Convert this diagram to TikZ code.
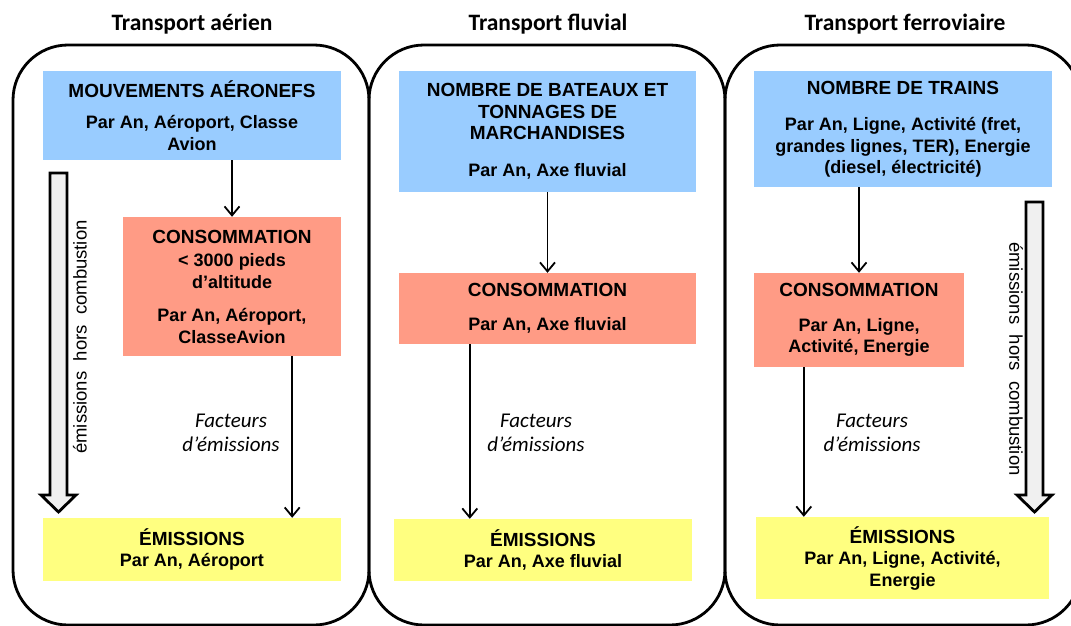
\documentclass[tikz,border=0pt]{standalone}
\usepackage{fontspec}
\setmainfont{Liberation Sans}
\newfontfamily\calib{Carlito}
\newfontfamily\sidefont[WordSpace=2]{Liberation Sans}
\usetikzlibrary{arrows.meta}
\definecolor{boxblue}{HTML}{99CCFF}
\definecolor{boxred}{HTML}{FF9B85}
\definecolor{boxyellow}{HTML}{FFFF80}
\definecolor{arrowgray}{HTML}{F0F0F0}
\newcommand\hd{\fontsize{19}{22}\selectfont}

\begin{document}
\begin{tikzpicture}[x=1pt,y=-1pt,
        bxframe/.style={draw=black,line width=2.8pt,rounded corners=55pt,minimum width=356pt,minimum height=580pt},
        bx/.style={inner sep=0pt,align=center,font=\bfseries\fontsize{18}{21.5}\selectfont},
        bxblue/.style={bx,fill=boxblue},
        bxred/.style={bx,fill=boxred},
        bxyellow/.style={bx,fill=boxyellow},
        flow/.style={-{Straight Barb[length=9pt,width=15pt]},line width=1.8pt},
        bigarrow/.style={fill=arrowgray,draw=black,line width=2.8pt},
        ttl/.style={font=\calib\bfseries\fontsize{23.5}{28}\selectfont},
        fct/.style={align=center,font=\calib\itshape\fontsize{21}{24}\selectfont},
        side/.style={font=\sidefont\fontsize{18.5}{22}\selectfont}
      ]
      \useasboundingbox (0,0) rectangle (1071,626);

      % frames and titles
      \node[bxframe] (fair)  at (191,335) {};
      \node[bxframe] (ffluv) at (547,335) {};
      \node[bxframe] (ffer)  at (903,335) {};
      \node[ttl] (tair)  at (192,24) {Transport aérien};
      \node[ttl] (tfluv) at (548,24) {Transport fluvial};
      \node[ttl] (tfer)  at (905,24) {Transport ferroviaire};

      % air
      \node[bxblue,minimum width=298pt,minimum height=89pt] (mvt) at (192,115.5)
        {{\hd MOUVEMENTS AÉRONEFS}\\[10pt]Par An, Aéroport, Classe\\Avion};
      \node[bxred,minimum width=218pt,minimum height=139pt] (consoair) at (232,286.5)
        {{\hd CONSOMMATION}\\[2pt]< 3000 pieds\\d’altitude\\[12pt]Par An, Aéroport,\\ClasseAvion};
      \node[bxyellow,minimum width=298pt,minimum height=63pt] (emair) at (192,549.5)
        {{\hd ÉMISSIONS}\\Par An, Aéroport};
      \node[fct] (fcair) at (231,433) {Facteurs\\d’émissions};
      \node[side,rotate=90] (hcair) at (80,337) {émissions hors combustion};
      \draw[bigarrow] (50,173) -- (67,173) -- (67,495) -- (76,495) -- (58.5,512) -- (41,495) -- (50,495) -- cycle;

      % fluvial
      \node[bxblue,minimum width=297pt,minimum height=121pt] (bateaux) at (547.5,131.5)
        {{\hd NOMBRE DE BATEAUX ET}\\{\hd TONNAGES DE}\\{\hd MARCHANDISES}\\[15pt]Par An, Axe fluvial};
      \node[bxred,minimum width=297pt,minimum height=71pt] (consofluv) at (547.5,308.5)
        {{\hd CONSOMMATION}\\[13pt]Par An, Axe fluvial};
      \node[bxyellow,minimum width=298pt,minimum height=62pt] (emfluv) at (543,550)
        {{\hd ÉMISSIONS}\\Par An, Axe fluvial};
      \node[fct] (fcfluv) at (536,433) {Facteurs\\d’émissions};

      % ferroviaire
      \node[bxblue,minimum width=298pt,minimum height=116pt] (trains) at (903,129)
        {{\hd NOMBRE DE TRAINS}\\[15pt]Par An, Ligne, Activité (fret,\\grandes lignes, TER), Energie\\(diesel, électricité)};
      \node[bxred,minimum width=210pt,minimum height=94pt] (consofer) at (859,320)
        {{\hd CONSOMMATION}\\[13pt]Par An, Ligne,\\Activité, Energie};
      \node[bxyellow,minimum width=293pt,minimum height=82pt] (emfer) at (902.5,558)
        {{\hd ÉMISSIONS}\\Par An, Ligne, Activité,\\Energie};
      \node[fct] (fcfer) at (872,433) {Facteurs\\d’émissions};
      \node[side,rotate=-90] (hcfer) at (1016,359) {émissions hors combustion};
      \draw[bigarrow] (1026,202) -- (1043,202) -- (1043,495) -- (1052,495) -- (1034.5,512) -- (1017,495) -- (1026,495) -- cycle;

      % connectors
      \coordinate (a1) at ([xshift=-49pt]consoair.south east);
      \coordinate (a2) at ([xshift=71pt]consofluv.south west);
      \coordinate (a3) at ([xshift=50pt]consofer.south west);
      \draw[flow] (mvt.south -| consoair.north) -- (consoair.north);
      \draw[flow] (a1) -- (a1 |- emair.north);
      \draw[flow] (bateaux.south) -- (consofluv.north);
      \draw[flow] (a2) -- (a2 |- emfluv.north);
      \draw[flow] (trains.south -| consofer.north) -- (consofer.north);
      \draw[flow] (a3) -- (a3 |- emfer.north);

    \end{tikzpicture}
\end{document}
